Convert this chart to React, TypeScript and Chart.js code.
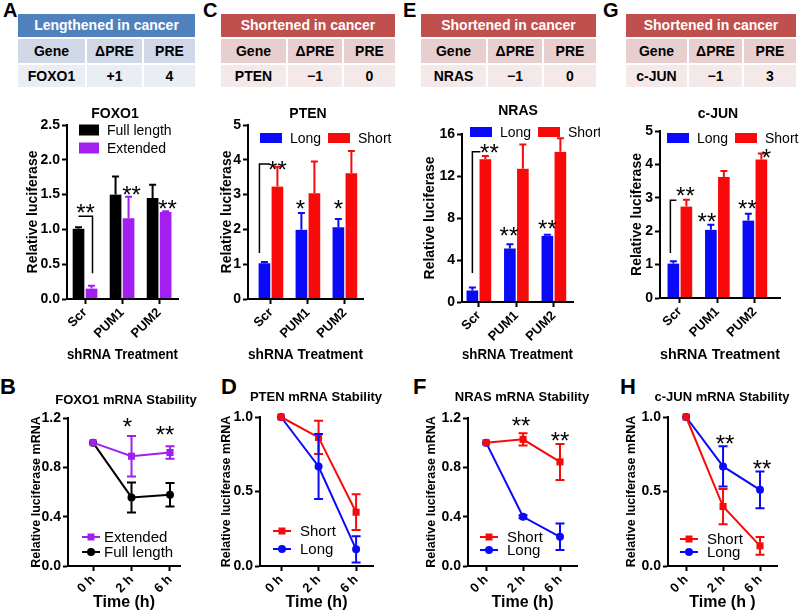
import React, { useEffect, useRef } from 'react';
import { Chart, registerables } from 'chart.js';

Chart.register(...registerables);

const FONT = '"Liberation Sans", Arial, Helvetica, sans-serif';

// ---------------- Data ----------------
const shrnaCategories = ['Scr', 'PUM1', 'PUM2'];
const timeLabels = ['0 h', '2 h', '6 h'];

const tableColumns = ['Gene', 'ΔPRE', 'PRE'];
const tableA = ['FOXO1', '+1', '4'];
const tableC = ['PTEN', '−1', '0'];
const tableE = ['NRAS', '−1', '0'];
const tableG = ['c-JUN', '−1', '3'];

// A – FOXO1 luciferase
const foxo1FullLength = [1.01, 1.5, 1.45];
const foxo1FullLengthSem = [0.02, 0.26, 0.19];
const foxo1Extended = [0.15, 1.16, 1.25];
const foxo1ExtendedSem = [0.04, 0.31, 0.01];
const foxo1BarTicks = [0, 0.5, 1, 1.5, 2, 2.5];

// C – PTEN luciferase
const ptenLong = [1.03, 1.99, 2.06];
const ptenLongSem = [0.03, 0.48, 0.24];
const ptenShort = [3.23, 3.04, 3.61];
const ptenShortSem = [0.57, 0.91, 0.64];
const ptenBarTicks = [0, 1, 2, 3, 4, 5];

// E – NRAS luciferase
const nrasLong = [1.1, 5.1, 6.3];
const nrasLongSem = [0.27, 0.4, 0.1];
const nrasShort = [13.6, 12.7, 14.3];
const nrasShortSem = [0.3, 2.3, 1.3];
const nrasBarTicks = [0, 4, 8, 12, 16];

// G – c-JUN luciferase
const cjunLong = [1.03, 2.04, 2.32];
const cjunLongSem = [0.07, 0.15, 0.2];
const cjunShort = [2.74, 3.62, 4.15];
const cjunShortSem = [0.2, 0.18, 0.18];
const cjunBarTicks = [0, 1, 2, 3, 4, 5];

// B – FOXO1 mRNA stability
const foxo1StabExtended = [1.0, 0.89, 0.92];
const foxo1StabExtendedSem = [0, 0.165, 0.05];
const foxo1StabFull = [1.0, 0.556, 0.577];
const foxo1StabFullSem = [0, 0.122, 0.095];
const stabTicks12 = [0, 0.4, 0.8, 1.2];

// D – PTEN mRNA stability
const ptenStabShort = [1.0, 0.863, 0.361];
const ptenStabShortSem = [0, 0.112, 0.12];
const ptenStabLong = [1.0, 0.668, 0.112];
const ptenStabLongSem = [0, 0.218, 0.088];
const stabTicks10 = [0, 0.5, 1.0];

// F – NRAS mRNA stability
const nrasStabShort = [1.0, 1.027, 0.844];
const nrasStabShortSem = [0, 0.05, 0.146];
const nrasStabLong = [1.0, 0.399, 0.237];
const nrasStabLongSem = [0, 0.012, 0.108];

// H – c-JUN mRNA stability
const cjunStabShort = [1.0, 0.399, 0.135];
const cjunStabShortSem = [0, 0.118, 0.06];
const cjunStabLong = [1.0, 0.668, 0.511];
const cjunStabLongSem = [0, 0.135, 0.123];

// ---------------- Styles ----------------
const BLACK = '#000000';
const PURPLE = '#a21ff0';
const BLUE = '#0a0af8';
const RED = '#f80a0a';

type Series = { label: string; color: string; values: number[]; sem: number[]; point?: string; radius?: number };
type Pt = { ds: number; i: number; y: number; dx?: number };
type Star = Pt & { text: string };
type Panel = {
  key: string;
  kind: 'bar' | 'line';
  canvas: { x: number; y: number; w: number; h: number };
  area: { l: number; t: number; r: number; b: number };
  xMin: number;
  xMax: number;
  xLabels: string[];
  yTicks: number[];
  dec: number;
  yTitle: string;
  yTitleSize: number;
  yTitleX: number;
  xTitle: string;
  xTitleSize: number;
  xTitleY: number;
  title: { text: string; x: number; y: number };
  series: Series[];
  legend: { items: { x: number; y: number }[]; textDx: number; box?: [number, number] };
  stars: Star[];
  bracket?: Pt[];
};

const barPanels: Panel[] = [
  {
    key: 'A', kind: 'bar',
    canvas: { x: 0, y: 95, w: 200, h: 275 },
    area: { l: 67, t: 125, r: 178, b: 299 },
    xMin: -0.486, xMax: 2.51, xLabels: shrnaCategories,
    yTicks: foxo1BarTicks, dec: 1,
    yTitle: 'Relative luciferase', yTitleSize: 14, yTitleX: 33,
    xTitle: 'shRNA Treatment', xTitleSize: 15, xTitleY: 355,
    title: { text: 'FOXO1', x: 115, y: 114 },
    series: [
      { label: 'Full length', color: BLACK, values: foxo1FullLength, sem: foxo1FullLengthSem },
      { label: 'Extended', color: PURPLE, values: foxo1Extended, sem: foxo1ExtendedSem },
    ],
    legend: { items: [{ x: 79, y: 130 }, { x: 79, y: 148 }], textDx: 28, box: [20, 11] },
    stars: [
      { ds: 0, i: 0, y: 1.32, dx: 7, text: '**' },
      { ds: 1, i: 1, y: 1.58, dx: 3, text: '**' },
      { ds: 1, i: 2, y: 1.38, dx: 2, text: '**' },
    ],
    bracket: [
      { ds: 0, i: 0, y: 1.19, dx: 0 },
      { ds: 1, i: 0, y: 1.19, dx: 1 },
      { ds: 1, i: 0, y: 0.37, dx: 1 },
    ],
  },
  {
    key: 'C', kind: 'bar',
    canvas: { x: 200, y: 95, w: 200, h: 275 },
    area: { l: 248, t: 125, r: 363, b: 299 },
    xMin: -0.62, xMax: 2.49, xLabels: shrnaCategories,
    yTicks: ptenBarTicks, dec: 0,
    yTitle: 'Relative luciferase', yTitleSize: 14, yTitleX: 227,
    xTitle: 'shRNA Treatment', xTitleSize: 15, xTitleY: 355,
    title: { text: 'PTEN', x: 308, y: 114 },
    series: [
      { label: 'Long', color: BLUE, values: ptenLong, sem: ptenLongSem },
      { label: 'Short', color: RED, values: ptenShort, sem: ptenShortSem },
    ],
    legend: { items: [{ x: 260, y: 138 }, { x: 328, y: 138 }], textDx: 30, box: [22, 10] },
    stars: [
      { ds: 1, i: 0, y: 3.88, dx: 0, text: '**' },
      { ds: 0, i: 1, y: 2.76, dx: -1, text: '*' },
      { ds: 0, i: 2, y: 2.76, dx: 0, text: '*' },
    ],
    bracket: [
      { ds: 0, i: 0, y: 1.32, dx: -5 },
      { ds: 0, i: 0, y: 3.88, dx: -5 },
      { ds: 0, i: 0, y: 3.88, dx: 5 },
    ],
  },
  {
    key: 'E', kind: 'bar',
    canvas: { x: 400, y: 95, w: 200, h: 275 },
    area: { l: 462, t: 134, r: 573, b: 302 },
    xMin: -0.45, xMax: 2.51, xLabels: shrnaCategories,
    yTicks: nrasBarTicks, dec: 0,
    yTitle: 'Relative luciferase', yTitleSize: 14, yTitleX: 430,
    xTitle: 'shRNA Treatment', xTitleSize: 15, xTitleY: 355,
    title: { text: 'NRAS', x: 518, y: 111 },
    series: [
      { label: 'Long', color: BLUE, values: nrasLong, sem: nrasLongSem },
      { label: 'Short', color: RED, values: nrasShort, sem: nrasShortSem },
    ],
    legend: { items: [{ x: 470, y: 132 }, { x: 538, y: 132 }], textDx: 30, box: [22, 10] },
    stars: [
      { ds: 1, i: 0, y: 14.76, dx: 4, text: '**' },
      { ds: 0, i: 1, y: 6.86, dx: -1, text: '**' },
      { ds: 0, i: 2, y: 7.52, dx: 0, text: '**' },
    ],
    bracket: [
      { ds: 0, i: 0, y: 2.76, dx: 0 },
      { ds: 0, i: 0, y: 14.3, dx: 0 },
      { ds: 0, i: 0, y: 14.3, dx: 8 },
    ],
  },
  {
    key: 'G', kind: 'bar',
    canvas: { x: 600, y: 95, w: 200, h: 275 },
    area: { l: 660, t: 131, r: 780, b: 298 },
    xMin: -0.53, xMax: 2.67, xLabels: shrnaCategories,
    yTicks: cjunBarTicks, dec: 0,
    yTitle: 'Relative luciferase', yTitleSize: 14, yTitleX: 637,
    xTitle: 'shRNA Treatment', xTitleSize: 15, xTitleY: 355,
    title: { text: 'c-JUN', x: 718, y: 114 },
    series: [
      { label: 'Long', color: BLUE, values: cjunLong, sem: cjunLongSem },
      { label: 'Short', color: RED, values: cjunShort, sem: cjunShortSem },
    ],
    legend: { items: [{ x: 667, y: 138 }, { x: 735, y: 138 }], textDx: 30, box: [22, 10] },
    stars: [
      { ds: 1, i: 0, y: 3.23, dx: -1, text: '**' },
      { ds: 0, i: 1, y: 2.46, dx: -4, text: '**' },
      { ds: 0, i: 2, y: 2.84, dx: -1, text: '**' },
      { ds: 1, i: 2, y: 4.37, dx: 5, text: '*' },
    ],
    bracket: [
      { ds: 0, i: 0, y: 1.35, dx: -3 },
      { ds: 0, i: 0, y: 2.93, dx: -3 },
      { ds: 0, i: 0, y: 2.93, dx: 3 },
    ],
  },
];

const linePanels: Panel[] = [
  {
    key: 'B', kind: 'line',
    canvas: { x: 0, y: 370, w: 215, h: 242 },
    area: { l: 68, t: 418, r: 180, b: 566 },
    xMin: -0.65, xMax: 2.26, xLabels: timeLabels,
    yTicks: stabTicks12, dec: 1,
    yTitle: 'Relative luciferase mRNA', yTitleSize: 12.5, yTitleX: 37,
    xTitle: 'Time (h)', xTitleSize: 16, xTitleY: 603,
    title: { text: 'FOXO1 mRNA Stability', x: 126, y: 400 },
    series: [
      { label: 'Extended', color: PURPLE, values: foxo1StabExtended, sem: foxo1StabExtendedSem, point: 'rect', radius: 5 },
      { label: 'Full length', color: BLACK, values: foxo1StabFull, sem: foxo1StabFullSem, point: 'circle', radius: 4 },
    ],
    legend: { items: [{ x: 82, y: 537 }, { x: 82, y: 552 }], textDx: 22 },
    stars: [
      { ds: 0, i: 1, y: 1.17, dx: -4, text: '*' },
      { ds: 0, i: 2, y: 1.11, dx: -5, text: '**' },
    ],
  },
  {
    key: 'D', kind: 'line',
    canvas: { x: 200, y: 370, w: 200, h: 242 },
    area: { l: 260, t: 417, r: 373, b: 566 },
    xMin: -0.56, xMax: 2.45, xLabels: timeLabels,
    yTicks: stabTicks10, dec: 1,
    yTitle: 'Relative luciferase mRNA', yTitleSize: 12.5, yTitleX: 227,
    xTitle: 'Time (h)', xTitleSize: 16, xTitleY: 603,
    title: { text: 'PTEN mRNA Stability', x: 316, y: 397 },
    series: [
      { label: 'Short', color: RED, values: ptenStabShort, sem: ptenStabShortSem, point: 'rect', radius: 5 },
      { label: 'Long', color: BLUE, values: ptenStabLong, sem: ptenStabLongSem, point: 'circle', radius: 4 },
    ],
    legend: { items: [{ x: 273, y: 531 }, { x: 273, y: 549 }], textDx: 27 },
    stars: [],
  },
  {
    key: 'F', kind: 'line',
    canvas: { x: 400, y: 370, w: 200, h: 242 },
    area: { l: 468, t: 418, r: 577, b: 566 },
    xMin: -0.49, xMax: 2.46, xLabels: timeLabels,
    yTicks: stabTicks12, dec: 1,
    yTitle: 'Relative luciferase mRNA', yTitleSize: 12.5, yTitleX: 432,
    xTitle: 'Time (h)', xTitleSize: 16, xTitleY: 603,
    title: { text: 'NRAS mRNA Stability', x: 522, y: 397 },
    series: [
      { label: 'Short', color: RED, values: nrasStabShort, sem: nrasStabShortSem, point: 'rect', radius: 5 },
      { label: 'Long', color: BLUE, values: nrasStabLong, sem: nrasStabLongSem, point: 'circle', radius: 4 },
    ],
    legend: { items: [{ x: 480, y: 537 }, { x: 480, y: 550 }], textDx: 27 },
    stars: [
      { ds: 0, i: 1, y: 1.18, dx: -2, text: '**' },
      { ds: 0, i: 2, y: 1.06, dx: 0, text: '**' },
    ],
  },
  {
    key: 'H', kind: 'line',
    canvas: { x: 600, y: 370, w: 200, h: 242 },
    area: { l: 668, t: 417, r: 777, b: 566 },
    xMin: -0.49, xMax: 2.46, xLabels: timeLabels,
    yTicks: stabTicks10, dec: 1,
    yTitle: 'Relative luciferase mRNA', yTitleSize: 12.5, yTitleX: 632,
    xTitle: 'Time (h )', xTitleSize: 16, xTitleY: 603,
    title: { text: 'c-JUN mRNA Stability', x: 722, y: 397 },
    series: [
      { label: 'Short', color: RED, values: cjunStabShort, sem: cjunStabShortSem, point: 'rect', radius: 5 },
      { label: 'Long', color: BLUE, values: cjunStabLong, sem: cjunStabLongSem, point: 'circle', radius: 4 },
    ],
    legend: { items: [{ x: 680, y: 539 }, { x: 680, y: 552 }], textDx: 27 },
    stars: [
      { ds: 0, i: 1, y: 0.86, dx: 2, text: '**' },
      { ds: 0, i: 2, y: 0.69, dx: 2, text: '**' },
    ],
  },
];

// ---------------- Decoration plugin ----------------
function makeDecor(p: Panel) {
  return {
    id: 'decor' + p.key,
    afterDatasetsDraw(chart: any) {
      const ctx: CanvasRenderingContext2D = chart.ctx;
      const ys = chart.scales.y;
      const ox = p.canvas.x;
      const oy = p.canvas.y;
      ctx.save();
      // error bars
      const cap = p.kind === 'bar' ? 7 : 9;
      p.series.forEach((s, d) => {
        const meta = chart.getDatasetMeta(d);
        ctx.strokeStyle = s.color;
        ctx.lineWidth = 2;
        meta.data.forEach((el: any, i: number) => {
          const sem = s.sem[i];
          if (!sem) return;
          const v = s.values[i];
          const x = el.x;
          const yt = ys.getPixelForValue(v + sem);
          const yb = p.kind === 'bar' ? ys.getPixelForValue(v) : ys.getPixelForValue(v - sem);
          ctx.beginPath();
          ctx.moveTo(x, yb);
          ctx.lineTo(x, yt);
          ctx.moveTo(x - cap / 2, yt);
          ctx.lineTo(x + cap / 2, yt);
          if (p.kind === 'line') {
            ctx.moveTo(x - cap / 2, yb);
            ctx.lineTo(x + cap / 2, yb);
          }
          ctx.stroke();
        });
      });
      // bracket
      if (p.bracket) {
        ctx.strokeStyle = '#000';
        ctx.lineWidth = 1.5;
        ctx.beginPath();
        p.bracket.forEach((b, k) => {
          const el = chart.getDatasetMeta(b.ds).data[b.i];
          const x = el.x + (b.dx || 0);
          const y = ys.getPixelForValue(b.y);
          if (k === 0) ctx.moveTo(x, y);
          else ctx.lineTo(x, y);
        });
        ctx.stroke();
      }
      // stars
      const starSize = 24;
      ctx.fillStyle = '#000';
      ctx.font = `${starSize}px ${FONT}`;
      ctx.textAlign = 'center';
      ctx.textBaseline = 'alphabetic';
      p.stars.forEach((s) => {
        const el = chart.getDatasetMeta(s.ds).data[s.i];
        const x = el.x + (s.dx || 0);
        const y = ys.getPixelForValue(s.y) + starSize * 0.57;
        ctx.fillText(s.text, x, y);
      });
      // title
      ctx.font = `bold ${p.kind === 'bar' ? 14 : 13}px ${FONT}`;
      ctx.textBaseline = 'middle';
      ctx.textAlign = 'center';
      ctx.fillText(p.title.text, p.title.x - ox, p.title.y - oy);
      // legend
      ctx.font = `${p.kind === 'bar' ? 14 : 15}px ${FONT}`;
      ctx.textAlign = 'left';
      p.series.forEach((s, d) => {
        const it = p.legend.items[d];
        const lx = it.x - ox;
        const ly = it.y - oy;
        if (p.kind === 'bar' && p.legend.box) {
          const [w, h] = p.legend.box;
          ctx.fillStyle = s.color;
          ctx.fillRect(lx, ly - h / 2, w, h);
        } else {
          ctx.strokeStyle = s.color;
          ctx.fillStyle = s.color;
          ctx.lineWidth = 2;
          ctx.beginPath();
          ctx.moveTo(lx, ly);
          ctx.lineTo(lx + 18, ly);
          ctx.stroke();
          ctx.beginPath();
          if (s.point === 'rect') ctx.rect(lx + 9 - 3.5, ly - 3.5, 7, 7);
          else ctx.arc(lx + 9, ly, 4, 0, Math.PI * 2);
          ctx.fill();
        }
        ctx.fillStyle = '#000';
        ctx.fillText(s.label, lx + p.legend.textDx, ly + 1);
      });
      ctx.restore();
    },
  };
}

function axisCommon() {
  return {
    grid: {
      display: true,
      drawOnChartArea: false,
      drawTicks: true,
      tickLength: 5,
      tickWidth: 2,
      tickColor: '#000',
      offset: false,
    },
    border: { display: true, color: '#000', width: 2, z: 1 },
  };
}

function buildConfig(p: Panel): any {
  const datasets = p.series.map((s) => {
    const data = s.values.map((v, i) => ({ x: i, y: v }));
    if (p.kind === 'bar') {
      return {
        label: s.label,
        data,
        backgroundColor: s.color,
        borderColor: '#ffffff',
        borderWidth: { left: 1, right: 1, top: 0, bottom: 0 },
        borderSkipped: false,
        barThickness: 13,
      };
    }
    return {
      label: s.label,
      data,
      borderColor: s.color,
      backgroundColor: s.color,
      borderWidth: 2,
      pointStyle: s.point,
      pointRadius: s.radius,
      pointBorderWidth: 0,
      tension: 0,
      clip: false,
    };
  });
  const lastY = p.yTicks[p.yTicks.length - 1];
  return {
    type: p.kind,
    data: { datasets },
    options: {
      animation: false,
      responsive: false,
      maintainAspectRatio: false,
      devicePixelRatio: 1,
      layout: {
        padding: {
          top: p.area.t - p.canvas.y,
          right: p.canvas.x + p.canvas.w - p.area.r,
          left: 0,
          bottom: 0,
        },
      },
      plugins: {
        legend: { display: false },
        title: { display: false },
        tooltip: { enabled: false },
      },
      scales: {
        x: {
          type: 'linear',
          min: p.xMin,
          max: p.xMax,
          offset: false,
          ...axisCommon(),
          afterBuildTicks: (s: any) => {
            s.ticks = p.xLabels.map((_, i) => ({ value: i }));
          },
          ticks: {
            color: '#000',
            font: { family: FONT, size: 13, weight: 'bold' },
            minRotation: 45,
            maxRotation: 45,
            padding: 1,
            autoSkip: false,
            callback: (v: any) => p.xLabels[Math.round(Number(v))] ?? '',
          },
          title: {
            display: true,
            text: p.xTitle,
            color: '#000',
            font: { family: FONT, size: p.xTitleSize, weight: 'bold' },
            padding: { top: 0, bottom: Math.max(0, p.canvas.y + p.canvas.h - p.xTitleY - p.xTitleSize * 0.6) },
          },
          afterFit: (s: any) => {
            s.height = p.canvas.y + p.canvas.h - p.area.b;
          },
        },
        y: {
          type: 'linear',
          min: 0,
          max: lastY,
          ...axisCommon(),
          afterBuildTicks: (s: any) => {
            s.ticks = p.yTicks.map((v) => ({ value: v }));
          },
          ticks: {
            color: '#000',
            font: { family: FONT, size: 14, weight: 'bold' },
            padding: 2,
            callback: (v: any) => Number(v).toFixed(p.dec),
          },
          title: {
            display: true,
            text: p.yTitle,
            color: '#000',
            font: { family: FONT, size: p.yTitleSize, weight: 'bold' },
            padding: { top: p.yTitleX - p.canvas.x - p.yTitleSize * 0.6, bottom: 0 },
          },
          afterFit: (s: any) => {
            s.width = p.area.l - p.canvas.x;
          },
        },
      },
    },
    plugins: [makeDecor(p)],
  };
}

function PanelChart({ p }: { p: Panel }) {
  const ref = useRef<HTMLCanvasElement>(null);
  useEffect(() => {
    if (!ref.current) return;
    const chart = new Chart(ref.current, buildConfig(p));
    return () => chart.destroy();
  }, [p]);
  return (
    <canvas
      ref={ref}
      width={p.canvas.w}
      height={p.canvas.h}
      style={{ position: 'absolute', left: p.canvas.x, top: p.canvas.y, width: p.canvas.w, height: p.canvas.h }}
    />
  );
}

// ---------------- Tables ----------------
type TableSpec = { heading: string; row: string[]; cols: number[]; theme: 'blue' | 'red' };
const THEMES = {
  blue: { head: '#4f81bd', r1: '#d0d8e8', r2: '#e9edf4' },
  red: { head: '#c0504d', r1: '#e8cfcf', r2: '#f4e8e8' },
};
const tables: TableSpec[] = [
  { heading: 'Lengthened in cancer', row: tableA, cols: [18, 86, 143, 195], theme: 'blue' },
  { heading: 'Shortened in cancer', row: tableC, cols: [221, 287, 343, 395], theme: 'red' },
  { heading: 'Shortened in cancer', row: tableE, cols: [421, 487, 543, 596], theme: 'red' },
  { heading: 'Shortened in cancer', row: tableG, cols: [626, 688, 743, 796], theme: 'red' },
];

function GeneTable({ t }: { t: TableSpec }) {
  const th = THEMES[t.theme];
  const [x0, , , x3] = t.cols;
  const cell = (left: number, top: number, w: number, h: number, bg: string, text: string, color: string, key: string, size: number) => (
    <div
      key={key}
      style={{
        position: 'absolute', left, top, width: w, height: h, background: bg, color,
        fontFamily: FONT, fontWeight: 'bold', fontSize: size, lineHeight: `${h}px`, textAlign: 'center',
        whiteSpace: 'nowrap', overflow: 'hidden',
      }}
    >
      {text}
    </div>
  );
  const out: any[] = [];
  out.push(cell(x0, 14, x3 - x0, 23, th.head, t.heading, '#fff', 'h', 14));
  for (let c = 0; c < 3; c++) {
    const l = t.cols[c] + (c === 0 ? 0 : 1);
    const w = t.cols[c + 1] - l - (c === 2 ? 0 : 1);
    out.push(cell(l, 39, w, 24, th.r1, tableColumns[c], '#000', 'a' + c, 14));
    out.push(cell(l, 65, w, 22, th.r2, t.row[c], '#000', 'b' + c, 14));
  }
  return <>{out}</>;
}

const letters = [
  { t: 'A', x: 3, y: 0, s: 20 },
  { t: 'C', x: 203, y: 0, s: 20 },
  { t: 'E', x: 403, y: 0, s: 20 },
  { t: 'G', x: 603, y: 0, s: 20 },
  { t: 'B', x: 0, y: 376, s: 22 },
  { t: 'D', x: 221, y: 376, s: 22 },
  { t: 'F', x: 413, y: 376, s: 22 },
  { t: 'H', x: 620, y: 376, s: 22 },
];

export default function App() {
  return (
    <div
      style={{
        position: 'absolute', left: 0, top: 0, width: 800, height: 612, background: '#fff',
        overflow: 'hidden', fontFamily: FONT,
      }}
    >
      {tables.map((t, i) => (
        <GeneTable key={i} t={t} />
      ))}
      {letters.map((l) => (
        <div
          key={l.t}
          style={{
            position: 'absolute', left: l.x, top: l.y, fontSize: l.s, lineHeight: 1, fontWeight: 'bold',
            fontFamily: FONT, color: '#000',
          }}
        >
          {l.t}
        </div>
      ))}
      {barPanels.map((p) => (
        <PanelChart key={p.key} p={p} />
      ))}
      {linePanels.map((p) => (
        <PanelChart key={p.key} p={p} />
      ))}
    </div>
  );
}
